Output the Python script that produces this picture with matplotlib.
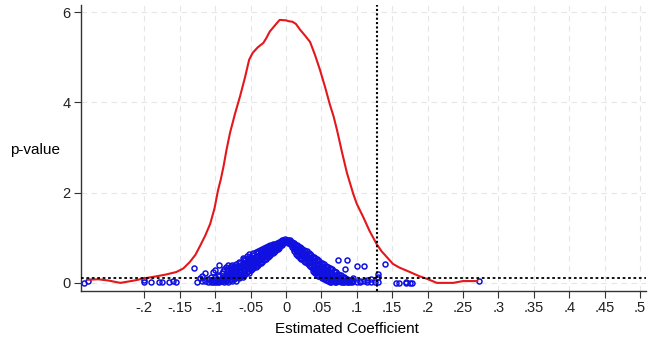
import matplotlib.pyplot as plt

plt.rcParams['font.family'] = ['Liberation Sans', 'DejaVu Sans']

# kernel density line
dens_x = [-0.280, -0.265, -0.250, -0.234, -0.215, -0.200, -0.185, -0.171, -0.155,
          -0.145, -0.136, -0.128, -0.121, -0.114, -0.107, -0.101, -0.096, -0.092,
          -0.088, -0.084, -0.079, -0.072, -0.065, -0.058, -0.052, -0.047, -0.040,
          -0.032, -0.028, -0.023, -0.015, -0.009, 0.000, 0.004, 0.009, 0.014,
          0.020, 0.027, 0.034, 0.041, 0.048, 0.055, 0.062, 0.067, 0.072, 0.079,
          0.086, 0.095, 0.100, 0.109, 0.118, 0.128, 0.135, 0.151, 0.160, 0.175,
          0.188, 0.199, 0.213, 0.236, 0.250, 0.270]
dens_y = [0.07, 0.08, 0.05, 0.00, 0.05, 0.10, 0.14, 0.18, 0.24,
          0.32, 0.46, 0.62, 0.83, 1.05, 1.31, 1.65, 2.05, 2.30,
          2.60, 2.95, 3.33, 3.75, 4.13, 4.55, 4.95, 5.10, 5.22,
          5.32, 5.42, 5.57, 5.72, 5.83, 5.82, 5.80, 5.79, 5.74,
          5.61, 5.48, 5.34, 5.05, 4.72, 4.35, 3.95, 3.70, 3.39, 2.90,
          2.44, 1.97, 1.75, 1.46, 1.15, 0.86, 0.70, 0.42, 0.34, 0.24,
          0.15, 0.09, 0.00, 0.00, 0.04, 0.04]

# estimated coefficient vs p-value, grouped by coefficient
scatter_cols = [
    (-0.285, [0.00]), (-0.280, [0.05]), (-0.200, [0.03, 0.06]), (-0.190, [0.02]),
    (-0.180, [0.02]), (-0.175, [0.03]), (-0.165, [0.02]), (-0.160, [0.05]),
    (-0.155, [0.02]), (-0.130, [0.33]), (-0.126, [0.03]), (-0.122, [0.10]),
    (-0.118, [0.15, 0.04]), (-0.114, [0.22, 0.05]), (-0.110, [0.02, 0.08]),
    (-0.106, [0.03, 0.12]), (-0.103, [0.01, 0.06, 0.24]),
    (-0.100, [0.02, 0.05, 0.12, 0.28]), (-0.097, [0.03, 0.09]),
    (-0.094, [0.01, 0.06, 0.15, 0.40]), (-0.091, [0.04, 0.10, 0.22]),
    (-0.088, [0.02, 0.08, 0.30]), (-0.085, [0.05, 0.12, 0.18, 0.36]),
    (-0.082, [0.03, 0.10, 0.20, 0.26, 0.40]), (-0.079, [0.06, 0.15, 0.24, 0.33]),
    (-0.076, [0.04, 0.12, 0.22, 0.30, 0.40]), (-0.073, [0.08, 0.18, 0.27, 0.35]),
    (-0.070, [0.05, 0.14, 0.25, 0.32, 0.42]), (-0.067, [0.10, 0.20, 0.29, 0.38, 0.47]),
    (-0.064, [0.15, 0.24, 0.33, 0.40]), (-0.061, [0.12, 0.22, 0.30, 0.37, 0.45, 0.55]),
    (-0.058, [0.20, 0.28, 0.35, 0.42, 0.50]), (-0.055, [0.25, 0.32, 0.40, 0.48, 0.60]),
    (-0.052, [0.22, 0.30, 0.37, 0.45, 0.52, 0.64]), (-0.049, [0.28, 0.35, 0.43, 0.50, 0.58]),
    (-0.046, [0.32, 0.40, 0.47, 0.55, 0.66]), (-0.043, [0.35, 0.44, 0.50, 0.58, 0.68]),
    (-0.040, [0.40, 0.47, 0.54, 0.60, 0.70]), (-0.037, [0.44, 0.50, 0.57, 0.64, 0.72]),
    (-0.034, [0.47, 0.54, 0.60, 0.67, 0.75]), (-0.031, [0.50, 0.57, 0.64, 0.70, 0.77]),
    (-0.028, [0.54, 0.60, 0.67, 0.73, 0.80]), (-0.025, [0.58, 0.64, 0.70, 0.76, 0.82]),
    (-0.022, [0.62, 0.68, 0.74, 0.80, 0.85]), (-0.019, [0.66, 0.72, 0.77, 0.83, 0.87]),
    (-0.016, [0.70, 0.76, 0.81, 0.86]), (-0.013, [0.74, 0.80, 0.85, 0.89]),
    (-0.010, [0.78, 0.83, 0.88, 0.91]), (-0.007, [0.83, 0.87, 0.92]),
    (-0.004, [0.88, 0.92, 0.95]), (-0.001, [0.93, 0.97]),
    (0.002, [0.96, 0.93]), (0.005, [0.94, 0.90, 0.86]), (0.008, [0.91, 0.86, 0.80]),
    (0.011, [0.88, 0.82, 0.75, 0.70]), (0.014, [0.85, 0.78, 0.72, 0.65]),
    (0.017, [0.82, 0.75, 0.68, 0.60]), (0.020, [0.80, 0.72, 0.64, 0.55]),
    (0.023, [0.76, 0.68, 0.60, 0.52]), (0.026, [0.72, 0.64, 0.56, 0.48]),
    (0.029, [0.70, 0.60, 0.52, 0.44]), (0.032, [0.66, 0.57, 0.48, 0.40]),
    (0.035, [0.62, 0.53, 0.45, 0.36]), (0.038, [0.58, 0.50, 0.41, 0.33, 0.26]),
    (0.041, [0.55, 0.46, 0.38, 0.30, 0.22]), (0.044, [0.52, 0.43, 0.34, 0.26, 0.18]),
    (0.047, [0.48, 0.40, 0.31, 0.23, 0.15]), (0.050, [0.45, 0.36, 0.28, 0.20, 0.12]),
    (0.053, [0.42, 0.33, 0.25, 0.17, 0.09]), (0.056, [0.38, 0.30, 0.22, 0.14, 0.07]),
    (0.059, [0.35, 0.27, 0.19, 0.11, 0.05]), (0.062, [0.32, 0.24, 0.16, 0.09, 0.03]),
    (0.065, [0.30, 0.21, 0.13, 0.06]), (0.068, [0.27, 0.18, 0.10, 0.04]),
    (0.071, [0.24, 0.15, 0.08, 0.02]), (0.074, [0.50, 0.20, 0.12, 0.05]),
    (0.077, [0.17, 0.09, 0.03]), (0.080, [0.14, 0.06, 0.02]),
    (0.083, [0.30, 0.10, 0.04]), (0.086, [0.50, 0.08, 0.02]),
    (0.090, [0.06, 0.01]), (0.095, [0.04, 0.10]), (0.100, [0.38, 0.03]),
    (0.105, [0.02, 0.05]), (0.110, [0.38, 0.04]), (0.115, [0.06, 0.01]),
    (0.120, [0.03, 0.08]), (0.125, [0.02]), (0.130, [0.12, 0.20, 0.02]),
    (0.140, [0.42]), (0.155, [0.00]), (0.160, [0.00]), (0.170, [0.00, 0.01]),
    (0.175, [0.00]), (0.178, [0.00]), (0.272, [0.04]),
]
# in-between estimates that fill the dense band
scatter_cols_b = [
    (-0.0955, [0.04, 0.18]), (-0.0895, [0.06, 0.14, 0.27]), (-0.0835, [0.07, 0.16, 0.31]),
    (-0.0775, [0.09, 0.19, 0.28, 0.37]), (-0.0715, [0.10, 0.21, 0.30, 0.38]),
    (-0.0655, [0.12, 0.25, 0.35, 0.44]), (-0.0595, [0.17, 0.26, 0.40, 0.52]),
    (-0.0535, [0.27, 0.35, 0.43, 0.56]), (-0.0475, [0.30, 0.38, 0.53, 0.62]),
    (-0.0415, [0.38, 0.45, 0.57, 0.66]), (-0.0355, [0.45, 0.52, 0.62, 0.70]),
    (-0.0295, [0.52, 0.59, 0.68, 0.75]), (-0.0235, [0.60, 0.66, 0.73, 0.79]),
    (-0.0175, [0.68, 0.74, 0.80, 0.85]), (-0.0115, [0.76, 0.82, 0.87]),
    (-0.0055, [0.85, 0.90, 0.94]), (0.0035, [0.92, 0.88, 0.95]),
    (0.0095, [0.89, 0.83, 0.77]), (0.0155, [0.83, 0.76, 0.70, 0.62]),
    (0.0215, [0.78, 0.70, 0.62, 0.53]), (0.0275, [0.71, 0.62, 0.54, 0.46]),
    (0.0335, [0.64, 0.55, 0.46, 0.38]), (0.0395, [0.57, 0.48, 0.39, 0.31, 0.24]),
    (0.0455, [0.50, 0.41, 0.32, 0.24, 0.16]), (0.0515, [0.43, 0.34, 0.26, 0.18, 0.10]),
    (0.0575, [0.36, 0.28, 0.20, 0.12, 0.06]), (0.0635, [0.31, 0.22, 0.14, 0.07, 0.02]),
    (0.0695, [0.25, 0.16, 0.09, 0.03]), (0.0755, [0.18, 0.10, 0.04]),
    (0.0815, [0.12, 0.05, 0.01]), (0.0875, [0.07, 0.03]), (0.0925, [0.05, 0.02]),
]
coef_x = [x for x, ys in scatter_cols + scatter_cols_b for _ in ys]
pval_y = [y for _, ys in scatter_cols + scatter_cols_b for y in ys]

x_ticks = [-0.2, -0.15, -0.1, -0.05, 0, 0.05, 0.1, 0.15, 0.2, 0.25, 0.3, 0.35, 0.4, 0.45, 0.5]
x_labels = ['-.2', '-.15', '-.1', '-.05', '0', '.05', '.1', '.15', '.2', '.25', '.3',
            '.35', '.4', '.45', '.5']
y_ticks = [0, 2, 4, 6]
cutoff_x = 0.129
cutoff_y = 0.1

fig = plt.figure(figsize=(6.61, 3.48), dpi=100)
ax = fig.add_axes([0.1225, 0.1638, 0.8545, 0.8218])

for t in x_ticks:
    ax.axvline(t, color='#e6e6e6', lw=0.8, ls=(0, (5, 4)), zorder=0)
for t in y_ticks:
    ax.axhline(t, color='#e6e6e6', lw=0.8, ls=(0, (5, 4)), zorder=0)

ax.plot(dens_x, dens_y, color='#e3171c', lw=1.5, zorder=3)
ax.plot(coef_x, pval_y, ls='none', marker='o', ms=3.6, mfc='none',
        mec='#1010e0', mew=1.1, zorder=2)

ax.axvline(cutoff_x, color='black', lw=1.5, ls=(0, (1, 1.1)), zorder=4)
ax.axhline(cutoff_y, color='black', lw=1.3, ls=(0, (1.5, 1.5)), zorder=4)

ax.set_xlim(-0.2895, 0.508)
ax.set_ylim(-0.18, 6.16)
ax.set_xticks(x_ticks)
ax.set_xticklabels(x_labels)
ax.set_yticks(y_ticks)
ax.tick_params(labelsize=10.5, length=5, pad=2.5, color='#333333', labelcolor='#222222')

for s in ['top', 'right']:
    ax.spines[s].set_visible(False)
for s in ['left', 'bottom']:
    ax.spines[s].set_color('#333333')
    ax.spines[s].set_linewidth(1.0)

ax.set_xlabel('Estimated Coefficient', fontsize=11)
ax.xaxis.set_label_coords(0.47, -0.11)
ax.set_ylabel('p-value', fontsize=11, rotation=0, ha='center', va='center')
ax.yaxis.set_label_coords(-0.0814, 0.493)

plt.savefig('out.png', dpi=100)
